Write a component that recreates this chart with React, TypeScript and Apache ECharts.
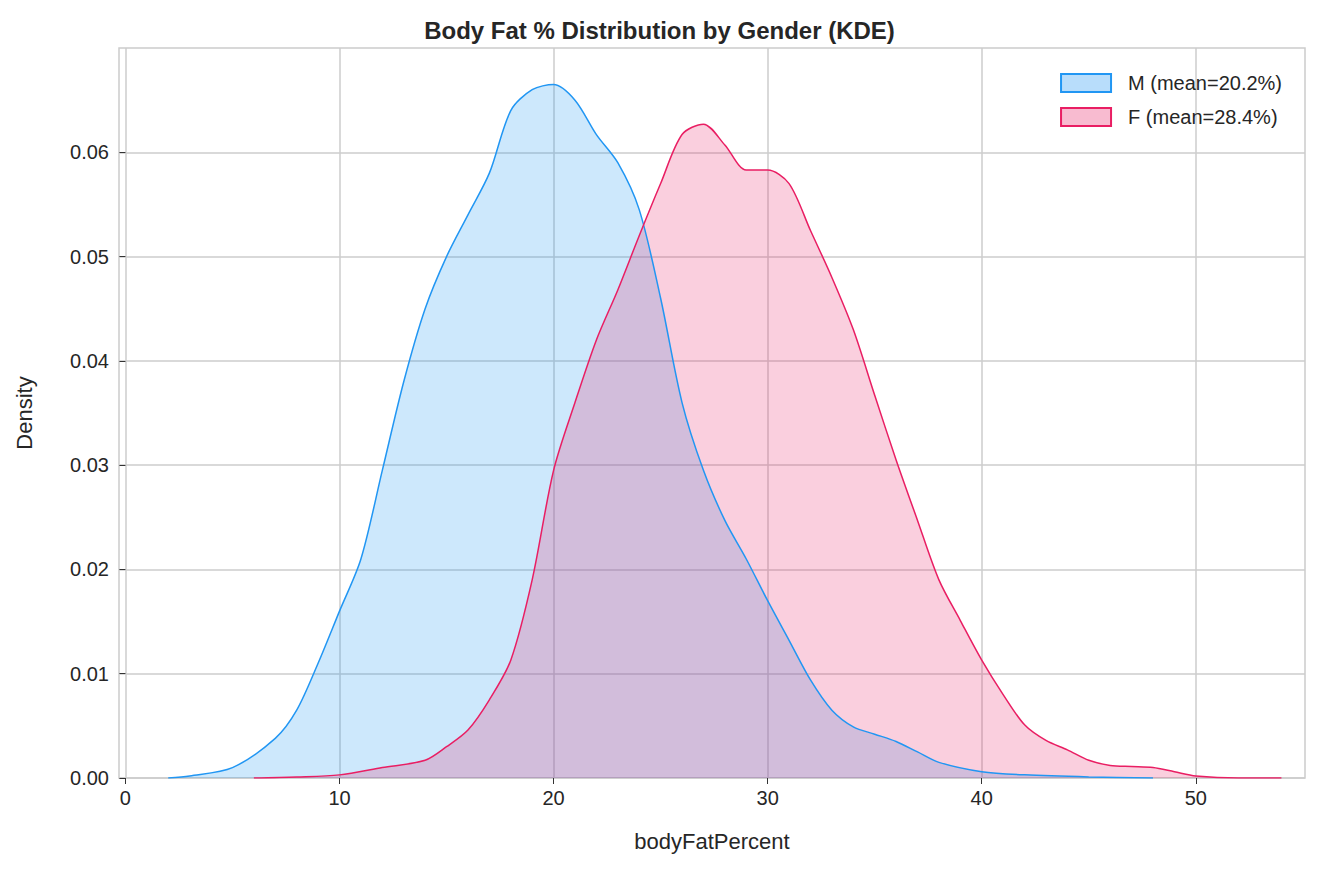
import React, { useEffect, useRef } from "react";
import * as echarts from "echarts";

const xM = [2, 3, 5, 7, 8, 9, 10, 11, 12, 13, 14, 15, 16, 17, 18, 19, 20, 21, 22, 23, 24, 25, 26, 27, 28, 29, 30, 31, 32, 33, 34, 35, 36, 37, 38, 40, 42, 45, 48];
const yM = [0, 0.0002, 0.001, 0.0038, 0.0065, 0.011, 0.016, 0.021, 0.0295, 0.038, 0.045, 0.05, 0.054, 0.058, 0.064, 0.066, 0.0665, 0.065, 0.0617, 0.059, 0.0545, 0.046, 0.036, 0.0295, 0.0247, 0.021, 0.017, 0.0132, 0.0094, 0.0065, 0.0049, 0.0042, 0.0035, 0.0025, 0.0015, 0.0006, 0.0003, 0.0001, 0];
const xF = [6, 8, 10, 12, 14, 15, 16, 17, 18, 19, 20, 21, 22, 23, 24, 25, 26, 27, 28, 29, 30, 31, 32, 33, 34, 35, 36, 37, 38, 39, 40, 41, 42, 43, 44, 45, 46, 47, 48, 49, 50, 52, 54];
const yF = [0, 0.0001, 0.0003, 0.001, 0.0017, 0.003, 0.0046, 0.0075, 0.0113, 0.019, 0.0295, 0.036, 0.042, 0.0468, 0.052, 0.057, 0.0617, 0.0627, 0.0607, 0.0583, 0.0583, 0.057, 0.0525, 0.048, 0.043, 0.0367, 0.0305, 0.0247, 0.019, 0.0151, 0.0113, 0.008, 0.0051, 0.0036, 0.0027, 0.0017, 0.0012, 0.0011, 0.001, 0.0006, 0.0002, 0, 0];
const xTicks = [0, 10, 20, 30, 40, 50];
const yTicks = [0, 0.01, 0.02, 0.03, 0.04, 0.05, 0.06];
const names = ["M (mean=20.2%)", "F (mean=28.4%)"];

export default function App() {
  const ref = useRef<HTMLDivElement>(null);
  useEffect(() => {
    document.body.style.margin = "0";
    const chart = echarts.init(ref.current!, null, { renderer: "svg" });
    const font = "Liberation Sans, Arial, sans-serif";
    const mk = (name: string, xs: number[], ys: number[], line: string, fill: string) => ({
      name,
      type: "line",
      smooth: 0.3,
      symbol: "none",
      data: xs.map((x, i) => [x, ys[i]]),
      lineStyle: { color: line, width: 1.5 },
      itemStyle: { color: fill, borderColor: line, borderWidth: 1.5 },
      areaStyle: { color: fill },
    });
    chart.setOption({
      animation: false,
      textStyle: { fontFamily: font },
      title: {
        text: "Body Fat % Distribution by Gender (KDE)",
        left: "center",
        top: 13,
        textStyle: { fontSize: 24, fontWeight: "bold", color: "#262626", fontFamily: font },
      },
      legend: {
        right: 32,
        top: 68,
        orient: "vertical",
        itemWidth: 50,
        itemHeight: 18,
        itemGap: 14,
        icon: "rect",
        textStyle: { fontSize: 20, color: "#262626", fontFamily: font, padding: [0, 0, 0, 12] },
        data: names,
      },
      grid: { left: 119, right: 14, top: 48, bottom: 93, show: true, borderColor: "#cccccc", borderWidth: 1.5 },
      xAxis: {
        type: "value",
        min: -0.3,
        max: 55.1,
        name: "bodyFatPercent",
        nameLocation: "middle",
        nameGap: 52,
        nameTextStyle: { fontSize: 22, color: "#262626" },
        axisLine: { show: false },
        axisTick: { show: true, customValues: xTicks, length: 6, lineStyle: { color: "#333" } },
        axisLabel: { customValues: xTicks, fontSize: 20, color: "#262626", margin: 10 },
        splitLine: { show: true, lineStyle: { color: "#cccccc", width: 1.5 } },
      },
      yAxis: {
        type: "value",
        min: 0,
        max: 0.07,
        interval: 0.01,
        name: "Density",
        nameLocation: "middle",
        nameGap: 84,
        nameTextStyle: { fontSize: 22, color: "#262626" },
        axisLine: { show: false },
        axisTick: { show: true, customValues: yTicks, length: 6, lineStyle: { color: "#333" } },
        axisLabel: { customValues: yTicks, fontSize: 20, color: "#262626", margin: 10, formatter: (v: number) => v.toFixed(2) },
        splitLine: { show: true, lineStyle: { color: "#cccccc", width: 1.5 } },
      },
      series: [
        mk(names[0], xM, yM, "#2196f3", "rgba(33,150,243,0.32)"),
        mk(names[1], xF, yF, "#e91e63", "rgba(233,30,99,0.3)"),
      ],
    });
    return () => chart.dispose();
  }, []);
  return <div ref={ref} style={{ width: 1319, height: 871 }} />;
}
